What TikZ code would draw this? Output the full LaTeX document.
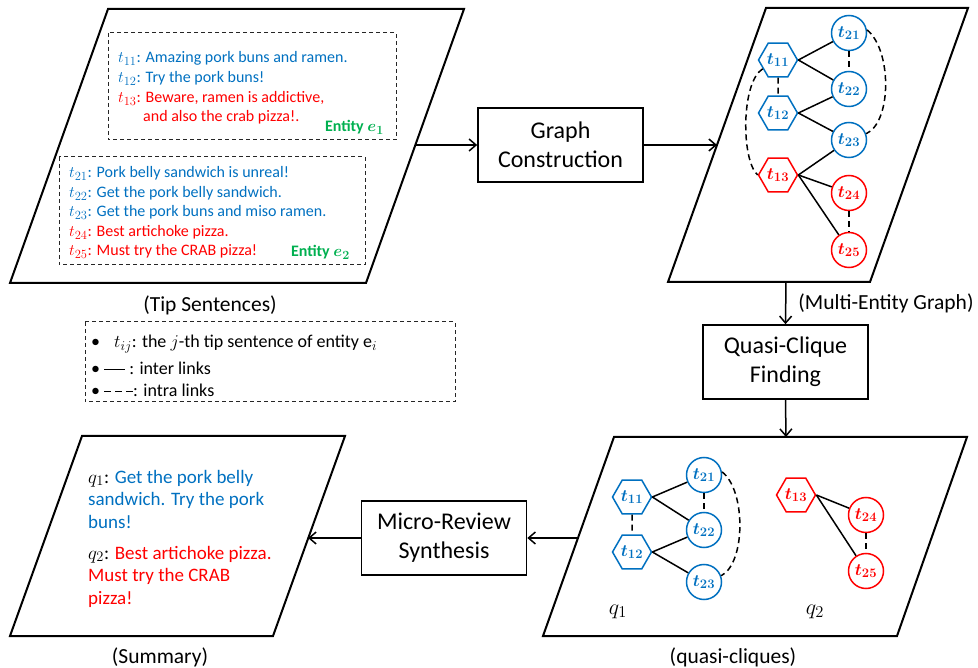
\RequirePackage{fix-cm}
\documentclass[tikz,border=0pt]{standalone}
\usepackage{fontspec}
\setmainfont{Carlito}
\usetikzlibrary{shapes.geometric,arrows.meta}
\definecolor{tb}{RGB}{0,112,192}
\definecolor{tr}{RGB}{255,0,0}
\definecolor{tg}{RGB}{0,176,80}
\DeclareMathSizes{16}{16}{12.5}{10}
\DeclareMathSizes{17}{17}{13}{10}
\DeclareMathSizes{18}{18}{13.5}{10}
\DeclareMathSizes{19}{19}{14.5}{11}
\DeclareMathSizes{22}{22}{16.5}{12}
\begin{document}
\begin{tikzpicture}[x=1pt,y=-1pt,
  para/.style={line width=2pt, line join=miter},
  dbox/.style={line width=1pt, dash pattern=on 4pt off 3pt, draw=black!85},
  proc/.style={draw, line width=1.6pt, minimum width=165pt, minimum height=74pt, align=center, inner sep=0, font=\fontsize{24}{29}\selectfont},
  arr/.style={-{Straight Barb[length=7pt,width=12pt]}, line width=1.5pt},
  hexn/.style={regular polygon, regular polygon sides=6, minimum size=39pt, inner sep=0, draw, line width=1.5pt, font=\fontsize{17}{17}\selectfont\boldmath},
  circn/.style={circle, minimum size=35pt, inner sep=0, draw, line width=1.5pt, font=\fontsize{17}{17}\selectfont\boldmath},
  inter/.style={line width=1.5pt},
  intra/.style={line width=1.5pt, dash pattern=on 6pt off 4pt},
  lbl/.style={inner sep=0, font=\fontsize{21.5}{26}\selectfont},
  sent/.style={inner sep=0, anchor=base west, font=\fontsize{16}{19}\selectfont},
  ent/.style={inner sep=0, anchor=base east, text=tg, font=\fontsize{16}{19}\selectfont\bfseries\boldmath},
  leg/.style={inner sep=0, anchor=base west, font=\fontsize{18}{22}\selectfont},
  summ/.style={inner sep=0, anchor=base west, font=\fontsize{19}{22}\selectfont},
  qlab/.style={inner sep=0, font=\fontsize{22}{22}\selectfont}
]
\useasboundingbox (0,0) rectangle (978,668);

% ---------- Tip sentences ----------
\draw[para] (108,9) -- (464,9) -- (366,283) -- (10,283) -- cycle;
\coordinate (tipOut) at (415,145);
\draw[dbox] (108,33) rectangle (396,140);
\draw[dbox] (59,157) rectangle (365,265);
\node[sent, text=tb] (s11) at (118,63) {$t_{11}$: Amazing pork buns and ramen.};
\node[sent, text=tb] (s12) at (118,83) {$t_{12}$: Try the pork buns!};
\node[sent, text=tr] (s13) at (118,103) {$t_{13}$: Beware, ramen is addictive,};
\node[sent, text=tr] (s13b) at (143,122) {and also the crab pizza!.};
\node[ent] (e1) at (384,132) {Entity $e_1$};
\node[sent, text=tb] (s21) at (69,178) {$t_{21}$: Pork belly sandwich is unreal!};
\node[sent, text=tb] (s22) at (69,198) {$t_{22}$: Get the pork belly sandwich.};
\node[sent, text=tb] (s23) at (69,217) {$t_{23}$: Get the pork buns and miso ramen.};
\node[sent, text=tr] (s24) at (69,237) {$t_{24}$: Best artichoke pizza.};
\node[sent, text=tr] (s25) at (69,256) {$t_{25}$: Must try the CRAB pizza!};
\node[ent] (e2) at (350,257) {Entity $e_2$};
\node[lbl] (tiplab) at (210,305) {(Tip Sentences)};

% ---------- Graph construction ----------
\node[proc] (gc) at (560.5,145) {Graph\\Construction};
\draw[arr] (tipOut) -- (gc.west);

% ---------- Multi-entity graph ----------
\draw[para] (766,8) -- (968,8) -- (870,282) -- (668,282) -- cycle;
\coordinate (megIn) at (717,145);
\coordinate (megOut) at (786,282);
\draw[arr] (gc.east) -- (megIn);
\node[lbl] (meglab) at (886,303) {(Multi-Entity Graph)};

\node[hexn, draw=tb, text=tb] (a11) at (778,60) {$t_{11}$};
\node[hexn, draw=tb, text=tb] (a12) at (778,113) {$t_{12}$};
\node[hexn, draw=tr, text=tr] (a13) at (778,175) {$t_{13}$};
\node[circn, draw=tb, text=tb] (a21) at (849,33) {$t_{21}$};
\node[circn, draw=tb, text=tb] (a22) at (849,89) {$t_{22}$};
\node[circn, draw=tb, text=tb] (a23) at (849,140) {$t_{23}$};
\node[circn, draw=tr, text=tr] (a24) at (849,193) {$t_{24}$};
\node[circn, draw=tr, text=tr] (a25) at (849,250) {$t_{25}$};
\draw[inter] (a11.east) -- (a21);
\draw[inter] (a11.east) -- (a22);
\draw[inter] (a12.east) -- (a22);
\draw[inter] (a12.east) -- (a23);
\draw[inter] (a13.east) -- (a23);
\draw[inter] (a13.east) -- (a24);
\draw[inter] (a13.east) -- (a25);
\draw[intra] (a11) -- (a12);
\draw[intra] (a21) -- (a22);
\draw[intra] (a24) -- (a25);
\draw[intra] (a11.210) .. controls (741,82) and (741,160) .. (a13.180);
\draw[intra] (a21.10) .. controls (892,50) and (892,122) .. (a23.20);

% ---------- Quasi-clique finding ----------
\node[proc] (qc) at (785.5,362) {Quasi-Clique\\Finding};
\draw[arr] (megOut) -- (qc.north);

% ---------- quasi-cliques ----------
\draw[para] (614,437) -- (967,437) -- (897,636) -- (543,636) -- cycle;
\coordinate (qcIn) at (786,437);
\coordinate (qcOut) at (578,538);
\draw[arr] (qc.south) -- (qcIn);
\node[lbl] (qclab) at (733,657) {(quasi-cliques)};

\node[hexn, draw=tb, text=tb] (b11) at (632,497) {$t_{11}$};
\node[hexn, draw=tb, text=tb] (b12) at (632,552) {$t_{12}$};
\node[circn, draw=tb, text=tb] (b21) at (704,475) {$t_{21}$};
\node[circn, draw=tb, text=tb] (b22) at (704,530) {$t_{22}$};
\node[circn, draw=tb, text=tb] (b23) at (704,582) {$t_{23}$};
\node[hexn, draw=tr, text=tr] (b13) at (796,495) {$t_{13}$};
\node[circn, draw=tr, text=tr] (b24) at (866,515) {$t_{24}$};
\node[circn, draw=tr, text=tr] (b25) at (866,571) {$t_{25}$};
\draw[inter] (b11.east) -- (b21);
\draw[inter] (b11.east) -- (b22);
\draw[inter] (b12.east) -- (b22);
\draw[inter] (b12.east) -- (b23);
\draw[inter] (b13.east) -- (b24);
\draw[inter] (b13.east) -- (b25);
\draw[intra] (b11) -- (b12);
\draw[intra] (b21) -- (b22);
\draw[intra] (b24) -- (b25);
\draw[intra] (b21.10) .. controls (746,490) and (746,563) .. (b23.20);
\node[qlab] (q1) at (618,612) {$q_1$};
\node[qlab] (q2) at (815,612) {$q_2$};

% ---------- Micro-review synthesis ----------
\node[proc] (mr) at (444,538) {Micro-Review\\Synthesis};
\draw[arr] (qcOut) -- (mr.east);

% ---------- Summary ----------
\draw[para] (82,436) -- (345,436) -- (273,636) -- (10,636) -- cycle;
\coordinate (sumIn) at (308,538);
\draw[arr] (mr.west) -- (sumIn);
\node[summ] (m1) at (88,483) {$q_1$: \textcolor{tb}{Get the pork belly}};
\node[summ, text=tb] (m2) at (88,505) {sandwich. Try the pork};
\node[summ, text=tb] (m3) at (88,528) {buns!};
\node[summ] (m4) at (88,559) {$q_2$: \textcolor{tr}{Best artichoke pizza.}};
\node[summ, text=tr] (m5) at (88,581) {Must try the CRAB};
\node[summ, text=tr] (m6) at (88,604) {pizza!};
\node[lbl] (sumlab) at (160,657) {(Summary)};

% ---------- Legend ----------
\draw[dbox] (85,322) rectangle (455,402);
\node[leg] (l1) at (91,348) {\textbullet\hspace{14pt}$t_{ij}$: the $j$-th tip sentence of entity e$_i$};
\node[leg] (l2) at (91,375) {\textbullet\ \rule[0.28em]{21pt}{1.3pt}\ : inter links};
\node[leg] (l3) at (91,397) {\textbullet\ \rule[0.28em]{7pt}{1.3pt}\hspace{4pt}\rule[0.28em]{7pt}{1.3pt}\hspace{4pt}\rule[0.28em]{7pt}{1.3pt}: intra links};
\end{tikzpicture}
\end{document}
